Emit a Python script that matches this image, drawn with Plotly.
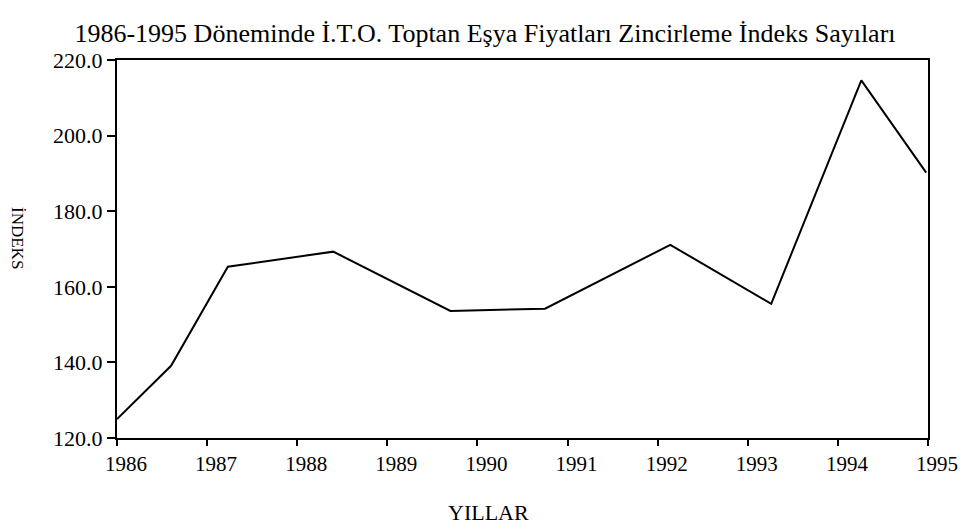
import plotly.graph_objects as go

# Data
years_pos = [1986.0, 1986.6, 1987.23, 1988.4, 1989.7, 1990.75, 1992.14, 1993.26, 1994.26, 1994.98]
index_values = [125.0, 139.1, 165.3, 169.3, 153.6, 154.2, 171.1, 155.5, 214.6, 190.2]
x_ticks = [1986, 1987, 1988, 1989, 1990, 1991, 1992, 1993, 1994, 1995]
y_ticks = [120, 140, 160, 180, 200, 220]

FONT = "Liberation Serif"
OFF = 8  # page body margin
W, H = 969 - OFF, 529 - OFF
ML, MR, MT, MB = 117 - OFF, 41, 60 - OFF, 91
PW, PH = W - ML - MR, H - MT - MB

fig = go.Figure()
fig.add_trace(go.Scatter(
    x=years_pos, y=index_values, mode="lines",
    line=dict(color="black", width=2), showlegend=False, hoverinfo="skip",
))

fig.update_layout(
    width=W, height=H,
    paper_bgcolor="white", plot_bgcolor="white",
    margin=dict(l=ML, r=MR, t=MT, b=MB),
    font=dict(family=FONT, color="black", size=19),
    title=dict(
        text="1986-1995 Döneminde İ.T.O. Toptan Eşya Fiyatları Zincirleme İndeks Sayıları",
        x=(485 - OFF) / W, xref="container", xanchor="center",
        y=1 - (33 - OFF) / H, yref="container", yanchor="middle",
        font=dict(family=FONT, size=26, color="black"),
    ),
    xaxis=dict(
        range=[1986, 1995], tickvals=x_ticks, ticktext=[str(v) for v in x_ticks],
        showgrid=False, zeroline=False,
        showline=True, linecolor="black", linewidth=2, mirror=True,
        ticks="outside", ticklen=6, tickwidth=1.5, tickcolor="black",
        ticklabelshift=9, ticklabelstandoff=0,
        tickfont=dict(family=FONT, size=21, color="black"),
    ),
    yaxis=dict(
        range=[120, 220], tickvals=y_ticks, ticktext=[f"{v:.1f}" for v in y_ticks],
        showgrid=False, zeroline=False,
        showline=True, linecolor="black", linewidth=2, mirror=True,
        ticks="outside", ticklen=8, tickwidth=1.5, tickcolor="black",
        ticklabelstandoff=0,
        tickfont=dict(family=FONT, size=22, color="black"),
    ),
    annotations=[
        dict(
            text="İNDEKS", textangle=90, showarrow=False,
            x=-(ML - (18 - OFF)) / PW, xref="paper", xanchor="center",
            y=1 - (238 - 60) / PH, yref="paper", yanchor="middle",
            font=dict(family=FONT, size=17, color="black"),
        ),
        dict(
            text="YILLAR", showarrow=False,
            x=(488 - 117) / PW, xref="paper", xanchor="center",
            y=-(512 - 438) / PH, yref="paper", yanchor="middle",
            font=dict(family=FONT, size=22, color="black"),
        ),
    ],
)

fig.write_html("out.html")
